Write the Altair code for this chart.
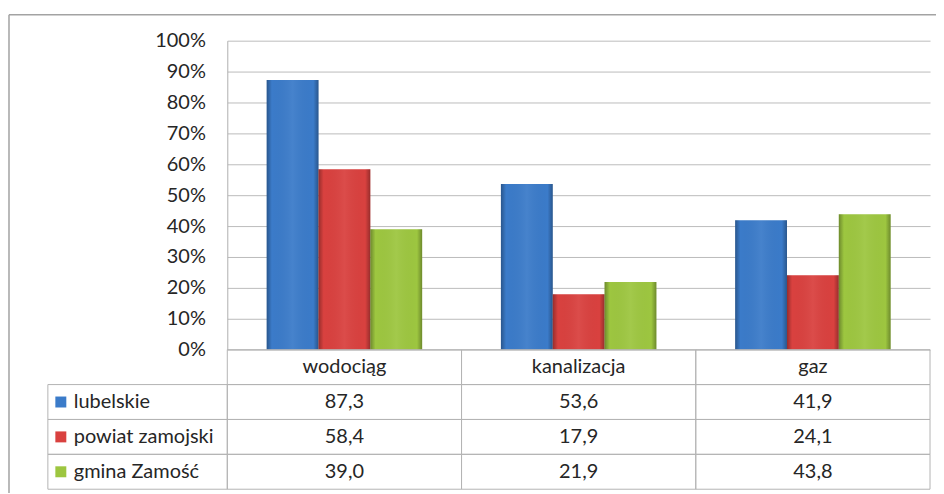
import altair as alt
import pandas as pd

# ---- data ----
categories = ["wodociąg", "kanalizacja", "gaz"]
series = ["lubelskie", "powiat zamojski", "gmina Zamość"]
lubelskie = [87.3, 53.6, 41.9]
powiat_zamojski = [58.4, 17.9, 24.1]
gmina_zamosc = [39.0, 21.9, 43.8]
series_values = [lubelskie, powiat_zamojski, gmina_zamosc]
series_colors = ["#3b7bc9", "#d9413f", "#9dc640"]
y_ticks = [0.0, 0.1, 0.2, 0.3, 0.4, 0.5, 0.6, 0.7, 0.8, 0.9, 1.0]
header_key = "nagłówek"

rows = []
for s, vals in zip(series, series_values):
    for c, v in zip(categories, vals):
        rows.append({"cat": c, "series": s, "row": s, "v": v})
df = pd.DataFrame(rows)

row_domain = [header_key] + series
header_df = pd.DataFrame({"cat": categories, "row": [header_key] * len(categories)})
cells_df = pd.DataFrame([{"cat": c, "row": r} for r in row_domain for c in categories])
names_df = pd.DataFrame({"row": series, "series": series})
one = pd.DataFrame({"k": [0]})

FONT = "Lato"
TXT = "#262626"
GRID = "#bcbcbc"
CELL = "#b4b4b4"
FS = 20

x_enc = alt.X("cat:N", scale=alt.Scale(domain=categories, paddingInner=0, paddingOuter=0), axis=None)
y_rows = alt.Y("row:N", scale=alt.Scale(type="band", domain=row_domain, range=[310, 450],
                                         paddingInner=0, paddingOuter=0), axis=None)
color_enc = alt.Color("series:N", scale=alt.Scale(domain=series, range=series_colors), legend=None)
xoff = alt.XOffset("series:N", scale=alt.Scale(domain=series, paddingInner=0, paddingOuter=0.76))

bars = alt.Chart(df).transform_calculate(p="datum.v / 100").mark_bar().encode(
    x=x_enc,
    xOffset=xoff,
    y=alt.Y("p:Q", scale=alt.Scale(domain=[0, 1], range=[310, 0]),
            axis=alt.Axis(values=y_ticks, format=".0%", grid=True, gridColor=GRID,
                          domainColor="#b0b0b0", ticks=False, tickSize=0, labelPadding=22,
                          labelFont=FONT, labelFontSize=FS, labelColor=TXT, title="")),
    color=color_enc,
)

shade = {
    "gradient": "linear", "x1": 0, "x2": 1, "y1": 0, "y2": 0,
    "stops": [
        {"offset": 0, "color": "rgba(0,0,0,0.30)"},
        {"offset": 0.10, "color": "rgba(0,0,0,0.0)"},
        {"offset": 0.5, "color": "rgba(255,255,255,0.06)"},
        {"offset": 0.90, "color": "rgba(0,0,0,0.0)"},
        {"offset": 1, "color": "rgba(0,0,0,0.30)"},
    ],
}
bars_shade = alt.Chart(df).transform_calculate(p="datum.v / 100").mark_bar(color=shade).encode(
    x=x_enc,
    xOffset=xoff,
    y=alt.Y("p:Q", scale=alt.Scale(domain=[0, 1], range=[310, 0]), axis=None),
)

cells = alt.Chart(cells_df).mark_rect(fillOpacity=0, stroke=CELL, strokeWidth=1).encode(
    x=x_enc, y=y_rows
)
left_cells = alt.Chart(names_df).mark_rect(fillOpacity=0, stroke=CELL, strokeWidth=1).encode(
    x=alt.value(-180), x2=alt.value(0), y=y_rows
)
header_text = alt.Chart(header_df).mark_text(font=FONT, fontSize=FS, color=TXT, baseline="middle").encode(
    x=x_enc, y=y_rows, text="cat:N"
)
value_text = alt.Chart(df).transform_calculate(
    lbl="replace(format(datum.v, '.1f'), '.', ',')"
).mark_text(font=FONT, fontSize=FS, color=TXT, baseline="middle").encode(
    x=x_enc, y=y_rows, text="lbl:N"
)
names_text = alt.Chart(names_df).mark_text(font=FONT, fontSize=FS, color=TXT, baseline="middle",
                                           align="left").encode(
    x=alt.value(-154), y=y_rows, text="series:N"
)
squares = alt.Chart(names_df).mark_square(size=121, opacity=1).encode(
    x=alt.value(-167), y=y_rows, color=color_enc
)
border_top = alt.Chart(one).mark_rule(color="#a3a3a3", strokeWidth=1.5).encode(
    x=alt.value(-219), x2=alt.value(712), y=alt.value(-26)
)
border_left = alt.Chart(one).mark_rule(color="#a3a3a3", strokeWidth=1.5).encode(
    x=alt.value(-219), y=alt.value(-26), y2=alt.value(460)
)

chart = alt.layer(
    bars, bars_shade, cells, left_cells, header_text, value_text, names_text, squares,
    border_top, border_left,
).resolve_scale(y="independent").properties(
    width=705, height=450,
    autosize=alt.AutoSizeParams(type="none"),
    padding={"left": 220, "top": 32, "right": 6, "bottom": 3},
    background="white",
).configure_view(strokeWidth=0)

chart.save("out.html", embed_options={"renderer": "svg", "actions": False})
